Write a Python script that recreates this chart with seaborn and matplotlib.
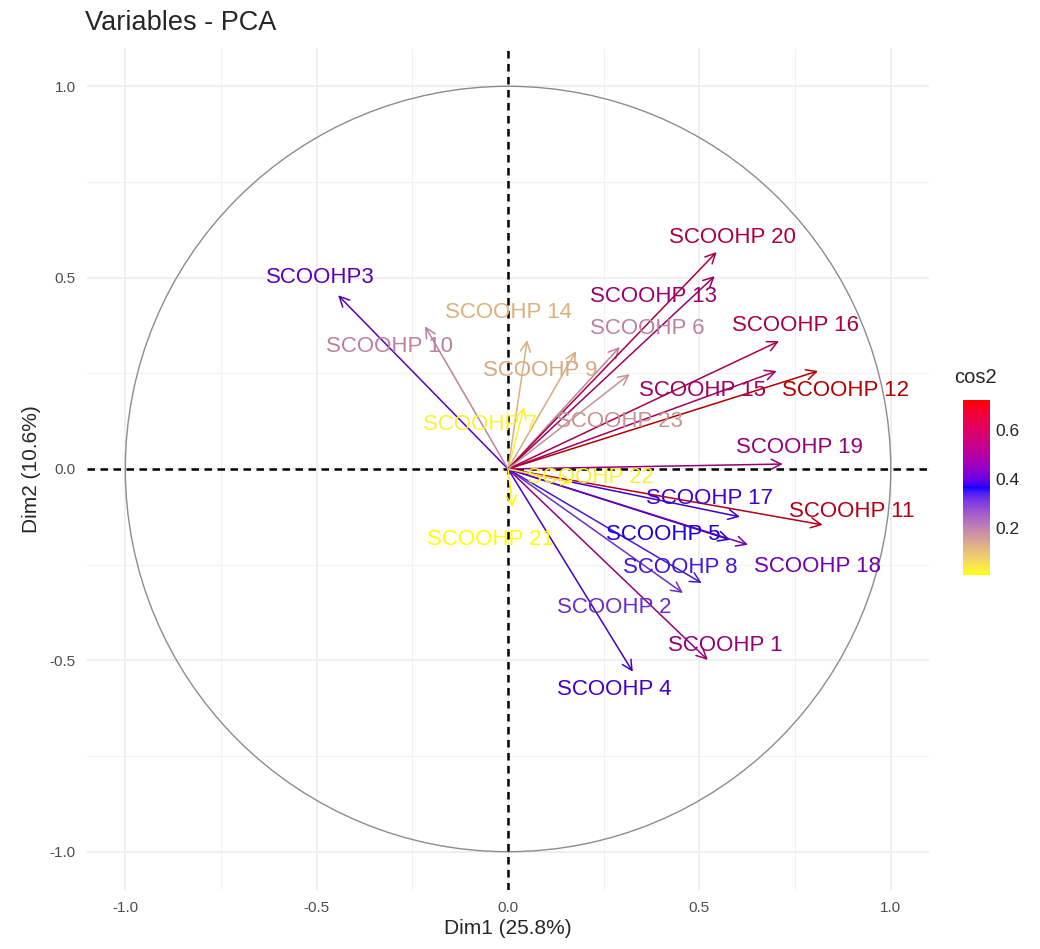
import numpy as np
import matplotlib
matplotlib.use("Agg")
import matplotlib.pyplot as plt
from matplotlib.patches import Circle
from matplotlib.colors import ListedColormap
import seaborn as sns

# variable coordinates on the first two dimensions
variables = ["SCOOHP 1", "SCOOHP 2", "SCOOHP3", "SCOOHP 4", "SCOOHP 5", "SCOOHP 6",
             "SCOOHP 7", "SCOOHP 8", "SCOOHP 9", "SCOOHP 10", "SCOOHP 11", "SCOOHP 12",
             "SCOOHP 13", "SCOOHP 14", "SCOOHP 15", "SCOOHP 16", "SCOOHP 17", "SCOOHP 18",
             "SCOOHP 19", "SCOOHP 20", "SCOOHP 21", "SCOOHP 22", "SCOOHP 23"]
dim1 = [0.522, 0.457, -0.444, 0.326, 0.580, 0.292, 0.042, 0.506, 0.178, -0.217, 0.822, 0.810,
        0.540, 0.050, 0.702, 0.708, 0.606, 0.627, 0.718, 0.545, 0.012, 0.170, 0.318]
dim2 = [-0.499, -0.324, 0.454, -0.530, -0.185, 0.319, 0.162, -0.298, 0.308, 0.373, -0.146, 0.256,
        0.504, 0.337, 0.256, 0.334, -0.125, -0.198, 0.013, 0.567, -0.100, -0.035, 0.248]

# repelled label positions (data units)
label_x = [0.569, 0.277, -0.491, 0.277, 0.405, 0.363, -0.073, 0.449, 0.084, -0.311, 0.898, 0.883,
           0.379, 0.000, 0.507, 0.752, 0.527, 0.809, 0.762, 0.587, -0.047, 0.214, 0.292]
label_y = [-0.460, -0.363, 0.501, -0.577, -0.172, 0.366, 0.115, -0.258, 0.258, 0.319, -0.112, 0.206,
           0.452, 0.410, 0.206, 0.376, -0.078, -0.256, 0.055, 0.606, -0.185, -0.023, 0.123]

gradient_cols = ["#FFFF00", "#0000FF", "#FF0000"]

x = np.array(dim1)
y = np.array(dim2)
cos2 = x ** 2 + y ** 2


# --- Lab interpolation, like ggplot's gradientn ---
def srgb_to_lab(rgb):
    rgb = np.asarray(rgb, float)
    lin = np.where(rgb <= 0.04045, rgb / 12.92, ((rgb + 0.055) / 1.055) ** 2.4)
    M = np.array([[0.4124, 0.3576, 0.1805],
                  [0.2126, 0.7152, 0.0722],
                  [0.0193, 0.1192, 0.9505]])
    xyz = M @ lin / np.array([0.95047, 1.0, 1.08883])
    f = np.where(xyz > 0.008856, np.cbrt(xyz), 7.787 * xyz + 16 / 116)
    return np.array([116 * f[1] - 16, 500 * (f[0] - f[1]), 200 * (f[1] - f[2])])


def lab_to_srgb(lab):
    L, a, b = lab
    fy = (L + 16) / 116
    fx = fy + a / 500
    fz = fy - b / 200
    f = np.array([fx, fy, fz])
    xyz = np.where(f ** 3 > 0.008856, f ** 3, (f - 16 / 116) / 7.787)
    xyz = xyz * np.array([0.95047, 1.0, 1.08883])
    Minv = np.array([[3.2406, -1.5372, -0.4986],
                     [-0.9689, 1.8758, 0.0415],
                     [0.0557, -0.2040, 1.0570]])
    lin = Minv @ xyz
    rgb = np.where(lin <= 0.0031308, 12.92 * lin, 1.055 * np.clip(lin, 0, None) ** (1 / 2.4) - 0.055)
    return np.clip(rgb, 0, 1)


labs = [srgb_to_lab(matplotlib.colors.to_rgb(c)) for c in gradient_cols]
stops = np.linspace(0, 1, len(labs))


def lab_at(t):
    k = min(int(t * (len(labs) - 1)), len(labs) - 2)
    u = (t - stops[k]) / (stops[k + 1] - stops[k])
    return labs[k] * (1 - u) + labs[k + 1] * u


cmap = ListedColormap([lab_to_srgb(lab_at(t)) for t in np.linspace(0, 1, 256)])
norm = plt.Normalize(cos2.min(), cos2.max())


def mark_color(v):
    # thin lines and text read darker in the reference, so tone them down a bit
    t = float(np.clip(norm(v), 0, 1))
    return np.asarray(cmap(t)[:3]) * (1 - 0.3 * t)


sns.set_theme(style="whitegrid")
plt.rcParams["font.family"] = ["Liberation Sans", "DejaVu Sans"]
plt.rcParams["axes.unicode_minus"] = False

fig = plt.figure(figsize=(10.4, 9.49), dpi=100)
ax = fig.add_axes([0.0837, 0.0622, 0.8096, 0.8872])
ax.set_facecolor("white")

ax.set_xlim(-1.1, 1.1)
ax.set_ylim(-1.1, 1.1)
ax.set_xticks([-1.0, -0.5, 0.0, 0.5, 1.0])
ax.set_yticks([-1.0, -0.5, 0.0, 0.5, 1.0])
ax.set_xticks([-0.75, -0.25, 0.25, 0.75], minor=True)
ax.set_yticks([-0.75, -0.25, 0.25, 0.75], minor=True)
ax.grid(which="major", color="#EBEBEB", lw=1.1)
ax.grid(which="minor", color="#F2F2F2", lw=0.8)
for s in ax.spines.values():
    s.set_visible(False)
ax.tick_params(which="major", length=3, width=1.2, color="#333333",
               labelsize=11, labelcolor="#4D4D4D", pad=5)
ax.tick_params(which="minor", length=0)

ax.add_patch(Circle((0, 0), 1.0, fill=False, color="#8C8C8C", lw=1.0, zorder=2))
ax.axhline(0, color="black", lw=1.8, ls=(0, (3, 2.2)), zorder=3)
ax.axvline(0, color="black", lw=1.8, ls=(0, (3, 2.2)), zorder=3)

for i, name in enumerate(variables):
    c = mark_color(cos2[i])
    ax.annotate("", xy=(x[i], y[i]), xytext=(0, 0),
                arrowprops=dict(arrowstyle="->,head_length=0.6,head_width=0.3",
                                color=c, lw=1.1, shrinkA=0, shrinkB=0),
                zorder=4)
    ax.text(label_x[i], label_y[i], name, color=c, fontsize=16,
            ha="center", va="center", zorder=5)

ax.set_xlabel("Dim1 (25.8%)", fontsize=15, labelpad=3)
ax.set_ylabel("Dim2 (10.6%)", fontsize=15, labelpad=6)
fig.text(0.082, 0.976, "Variables - PCA", fontsize=19.5, ha="left", va="center")

cax = fig.add_axes([0.926, 0.394, 0.026, 0.184])
sm = plt.cm.ScalarMappable(norm=norm, cmap=cmap)
cb = fig.colorbar(sm, cax=cax, ticks=[0.2, 0.4, 0.6])
cb.outline.set_visible(False)
cb.ax.tick_params(direction="in", color="white", length=5, width=1,
                  left=True, right=True, labelsize=12.5, labelcolor="#222222")
cb.ax.yaxis.set_major_formatter(matplotlib.ticker.FormatStrFormatter("%.1f"))
fig.text(0.917, 0.602, "cos2", fontsize=14.5, ha="left", va="center")

fig.savefig("out.png", dpi=100)
